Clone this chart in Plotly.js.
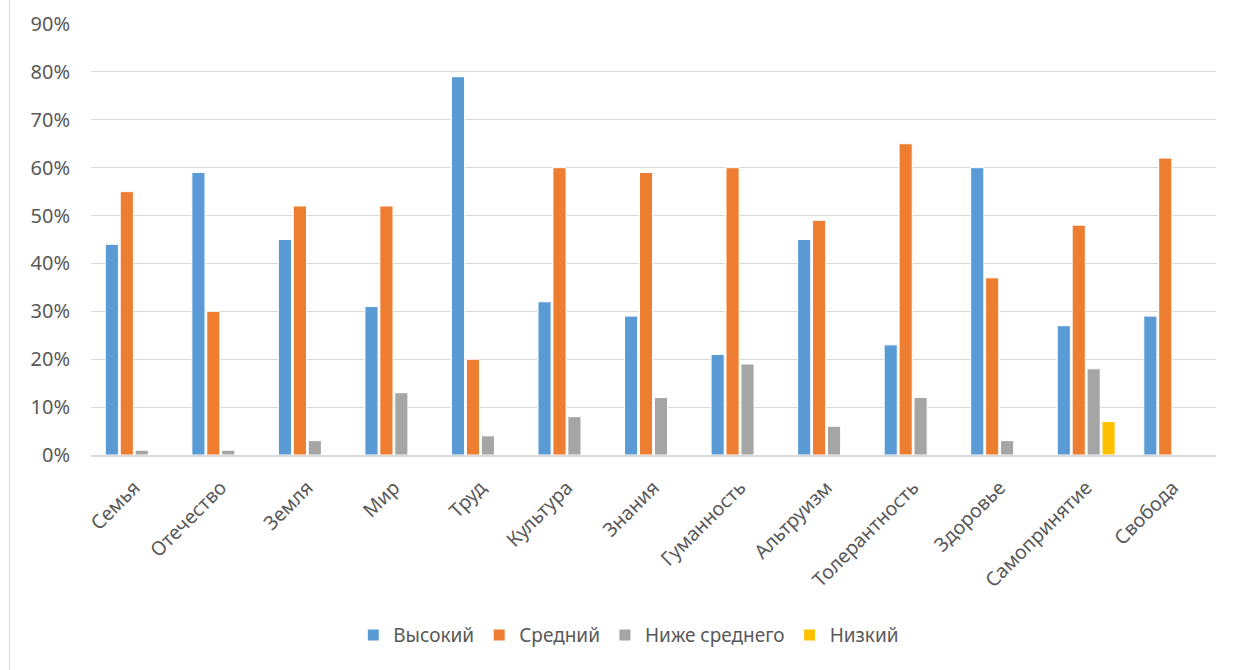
<!DOCTYPE html>
<html><head><meta charset="utf-8">
<script src="https://cdn.plot.ly/plotly-3.0.1.min.js"></script>
<style>
html,body{margin:0;padding:0;background:#fff;}
#wrap{position:absolute;left:0;top:0;width:1233px;height:670px;}
#frame{position:absolute;left:9px;top:0;width:1px;height:670px;background:#d9d9d9;}
#chart{position:absolute;left:0;top:0;width:1233px;height:670px;}
</style></head>
<body><div id="wrap"><div id="chart"></div><div id="frame"></div></div>
<script>
const categories = ["Семья","Отечество","Земля","Мир","Труд","Культура","Знания","Гуманность","Альтруизм","Толерантность","Здоровье","Самопринятие","Свобода"];
const seriesNames = ["Высокий","Средний","Ниже среднего","Низкий"];
const vysokiy = [0.44,0.59,0.45,0.31,0.79,0.32,0.29,0.21,0.45,0.23,0.60,0.27,0.29];
const sredniy = [0.55,0.30,0.52,0.52,0.20,0.60,0.59,0.60,0.49,0.65,0.37,0.48,0.62];
const nizheSrednego = [0.01,0.01,0.03,0.13,0.04,0.08,0.12,0.19,0.06,0.12,0.03,0.18,0];
const nizkiy = [0,0,0,0,0,0,0,0,0,0,0,0.07,0];
const colors = ["#5b9bd5","#ed7d31","#a5a5a5","#ffc000"];
const seriesData = [vysokiy, sredniy, nizheSrednego, nizkiy];

const fontFam = "Noto Sans, Liberation Sans, sans-serif";
const traces = seriesData.map((vals,i)=>({
  type:"bar", name:seriesNames[i], x:categories, y:vals,
  marker:{color:colors[i], line:{color:"#ffffff", width:1}},
  hoverinfo:"x+y"
}));

const layout = {
  width:1233, height:670,
  margin:{l:91, r:17, t:24, b:215},
  paper_bgcolor:"#ffffff", plot_bgcolor:"#ffffff",
  barmode:"group", bargap:0.31, bargroupgap:0.12,
  font:{family:fontFam, color:"#595959", size:19},
  xaxis:{tickangle:-45, tickfont:{size:19.5, color:"#595959"}, showgrid:false,
         showline:true, linecolor:"#d9d9d9", linewidth:1.5, ticks:"", automargin:false,
         ticklabelstandoff:12},
  yaxis:{range:[0,0.9], dtick:0.1, tickformat:".0%", tickfont:{size:20, color:"#595959"},
         gridcolor:"#d9d9d9", gridwidth:1, zeroline:false, showline:false, ticks:"",
         ticklen:0, automargin:false, ticklabelstandoff:20},
  legend:{orientation:"h", x:0.478, xanchor:"center", yref:"container", y:0.052, yanchor:"middle",
          font:{size:19, color:"#595959"}, itemwidth:30, traceorder:"normal"},
  showlegend:true
};
Plotly.newPlot("chart", traces, layout, {displayModeBar:false, staticPlot:true});
</script></body></html>
